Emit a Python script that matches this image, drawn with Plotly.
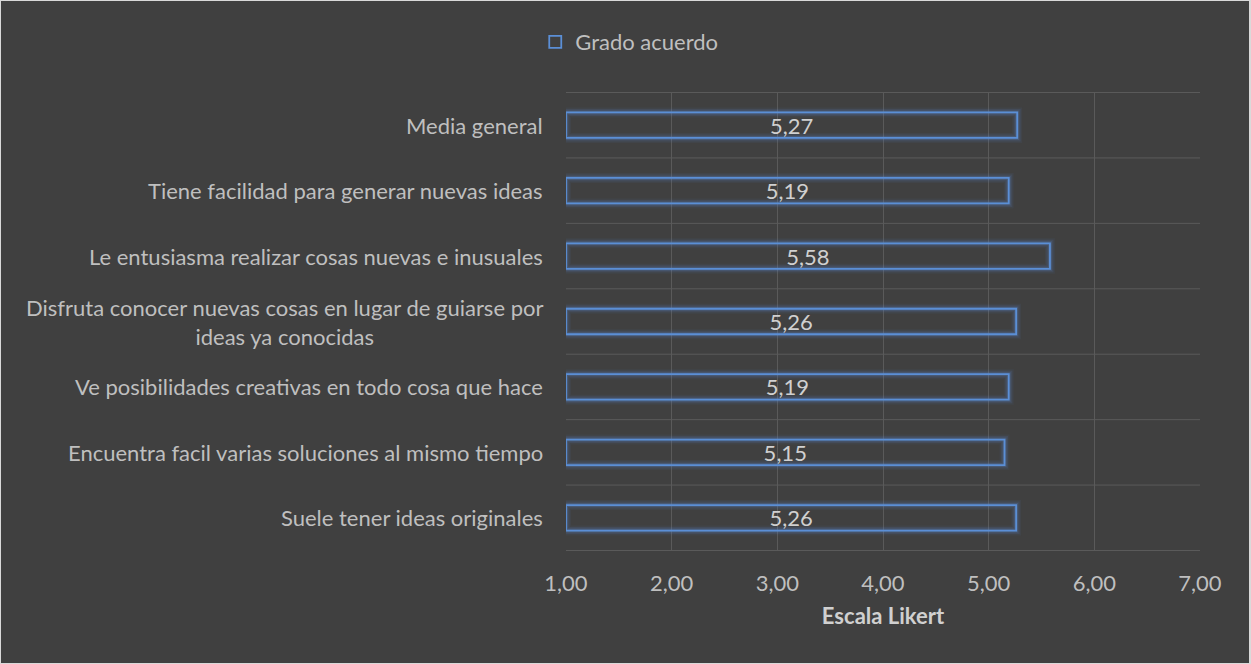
import plotly.graph_objects as go

# Survey items (bottom to top as drawn) and their mean agreement scores
categories = [
    "Suele tener ideas originales",
    "Encuentra facil varias soluciones al mismo tiempo",
    "Ve posibilidades creativas en todo cosa que hace",
    "Disfruta conocer nuevas cosas en lugar de guiarse por<br>ideas ya conocidas",
    "Le entusiasma realizar cosas nuevas e inusuales",
    "Tiene facilidad para generar nuevas ideas",
    "Media general",
]
values = [5.26, 5.15, 5.19, 5.26, 5.58, 5.19, 5.27]
tick_vals = [1, 2, 3, 4, 5, 6, 7]
tick_text = ["1,00", "2,00", "3,00", "4,00", "5,00", "6,00", "7,00"]

AXIS_START = 1
BG = "#404040"
GRID = "#5a5a5a"
BLUE = "#5b8fd6"
TEXT = "#bfbfbf"
FONT = "Lato, Open Sans, sans-serif"
FS = 22

labels = [f"{v:.2f}".replace(".", ",") for v in values]
lengths = [v - AXIS_START for v in values]

fig = go.Figure()

# soft glow behind each bar outline
for w, a in [(10, 0.06), (7, 0.12), (4, 0.22)]:
    fig.add_trace(go.Bar(
        y=categories, x=lengths, base=AXIS_START, orientation="h",
        width=0.39, showlegend=False, hoverinfo="skip",
        marker=dict(color="rgba(0,0,0,0)", line=dict(color=f"rgba(91,143,214,{a})", width=w)),
    ))

fig.add_trace(go.Bar(
    y=categories, x=lengths, base=AXIS_START, orientation="h",
    width=0.39, name="Grado acuerdo",
    marker=dict(color="rgba(0,0,0,0)", line=dict(color=BLUE, width=1.8)),
    text=labels, textposition="inside", insidetextanchor="middle",
    constraintext="none",
    textfont=dict(color="#d0d0d0", size=FS, family=FONT),
    hoverinfo="skip",
))

fig.update_layout(
    width=1251, height=664,
    paper_bgcolor=BG, plot_bgcolor=BG,
    margin=dict(l=566, r=51, t=92, b=113),
    barmode="overlay",
    font=dict(family=FONT, color=TEXT, size=FS),
    showlegend=True,
    legend=dict(
        orientation="h", x=0.503, xref="container", xanchor="center",
        y=1 - 42 / 664, yref="container", yanchor="middle",
        font=dict(size=FS, color=TEXT, family=FONT),
        itemwidth=30, bgcolor="rgba(0,0,0,0)",
    ),
    shapes=[dict(type="rect", xref="paper", yref="paper",
                 x0=-566 / 634, x1=1 + 50 / 634, y0=-113 / 459, y1=1 + 92 / 459,
                 line=dict(color="#d9d9d9", width=2), fillcolor="rgba(0,0,0,0)",
                 layer="below")],
)

fig.update_xaxes(
    range=[1, 7], tickvals=tick_vals, ticktext=tick_text,
    showgrid=True, gridcolor=GRID, gridwidth=1, zeroline=False,
    showline=False, ticks="", ticklabelstandoff=17,
    tickfont=dict(size=FS, color=TEXT, family=FONT),
    title=dict(text="<b>Escala Likert</b>", standoff=13,
               font=dict(size=FS, color="#d0d0d0", family=FONT)),
)

# category labels are drawn as centred annotations so wrapped lines stay centred
fig.update_yaxes(showgrid=False, zeroline=False, showline=False, ticks="",
                 showticklabels=False)
for cat in categories:
    fig.add_annotation(x=0, xref="paper", xshift=-21, xanchor="right",
                       y=cat, yref="y", yanchor="middle", text=cat,
                       showarrow=False, align="center",
                       font=dict(size=FS, color=TEXT, family=FONT))

# horizontal separators between categories
for i in range(len(categories)):
    fig.add_shape(type="line", xref="x", yref="y", x0=1, x1=7,
                  y0=i + 0.5, y1=i + 0.5, line=dict(color=GRID, width=1), layer="below")
fig.add_shape(type="line", xref="x", yref="y", x0=1, x1=7,
              y0=-0.5, y1=-0.5, line=dict(color=GRID, width=1), layer="below")

fig.write_html("out.html")
